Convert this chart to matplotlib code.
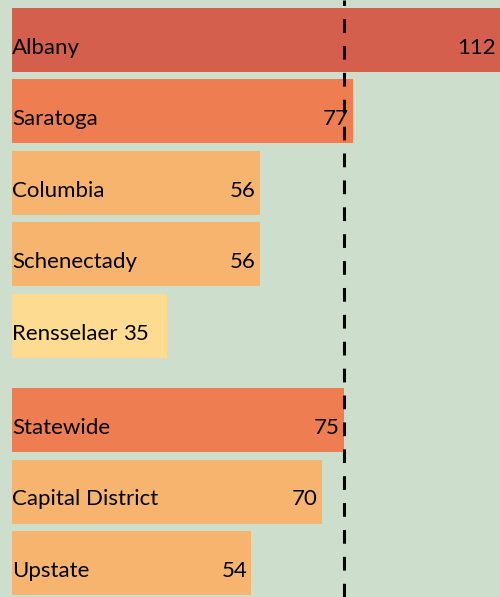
import matplotlib
matplotlib.use("Agg")
import matplotlib.pyplot as plt

categories = ["Albany", "Saratoga", "Columbia", "Schenectady", "Rensselaer",
              "Statewide", "Capital District", "Upstate"]
values = [112, 77, 56, 56, 35, 75, 70, 54]
colors = ["#d45f4c", "#ee7e52", "#f7b46e", "#f7b46e", "#fddb90",
          "#ee7e52", "#f7b46e", "#f7b46e"]
reference_value = 75  # Statewide (dashed line)
group_gap = 0.32

positions = []
p = 0.0
for i, c in enumerate(categories):
    if c == "Statewide":
        p += group_gap
    positions.append(p)
    p += 1.0

bg = "#cddecc"
fig = plt.figure(figsize=(5.0, 5.97), dpi=100, facecolor=bg)
ax = fig.add_axes([0, 0, 1, 1])
ax.set_facecolor(bg)

px_per_unit = 4.43
ax.set_xlim(-12 / px_per_unit, 488 / px_per_unit)
ax.set_ylim(positions[-1] + 0.475, positions[0] - 0.56)

ax.barh(positions, values, height=0.895, color=colors, zorder=1)
ax.axvline(reference_value, color="black", lw=2.2, zorder=3,
           dashes=(4.5, 4.3))

font = dict(family=["Lato", "DejaVu Sans"], size=16, color="black")
fig.canvas.draw()
renderer = fig.canvas.get_renderer()
xmax = ax.get_xlim()[1]
for y, c, v in zip(positions, categories, values):
    lab = ax.annotate(c, xy=(0, y), xytext=(0, -10), textcoords="offset points",
                      ha="left", va="baseline", zorder=4, **font)
    xend = min(v, xmax)
    val = ax.annotate(str(v), xy=(xend, y), xytext=(-3.0, -10),
                      textcoords="offset points", ha="right", va="baseline",
                      zorder=4, **font)
    fig.canvas.draw()
    lb = lab.get_window_extent(renderer)
    vb = val.get_window_extent(renderer)
    if vb.x0 < lb.x1 + 30:
        val.remove()
        ax.annotate(str(v), xy=(1, 0), xycoords=lab, xytext=(4, 0),
                    textcoords="offset points", ha="left", va="bottom",
                    zorder=4, **font)

ax.axis("off")
fig.savefig("out.png", dpi=100, facecolor=bg)
